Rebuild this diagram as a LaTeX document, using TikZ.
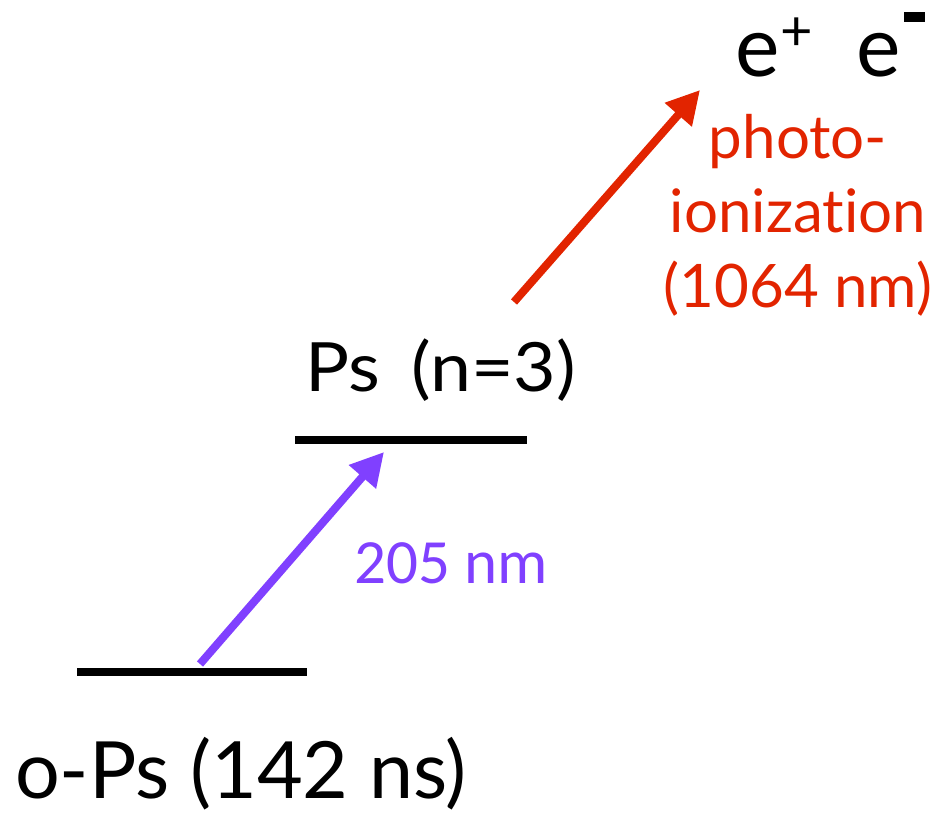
\documentclass[tikz,border=0pt]{standalone}
\usepackage{fontspec}
\setmainfont[Ligatures=NoCommon]{Lato}
\newfontfamily\calib{Carlito}
\usetikzlibrary{arrows.meta}
\definecolor{vio}{RGB}{128,64,255}
\definecolor{rd}{RGB}{226,36,0}
\tikzset{
  level/.style={line width=8pt},
  photon/.style={line width=8pt,-{Triangle[length=33pt,width=34pt]}},
  lbl/.style={inner sep=0pt,anchor=base west},
}
\begin{document}
\begin{tikzpicture}[x=1pt,y=-1pt]
\useasboundingbox (0,0) rectangle (935,816);
% levels
\coordinate (l1a) at (77,672);
\coordinate (l1b) at (307,672);
\coordinate (l2a) at (295,439.5);
\coordinate (l2b) at (527,439.5);
\draw[level] (l1a) -- (l1b);
\draw[level] (l2a) -- (l2b);
% labels
\node[lbl,font=\fontsize{79}{80}\selectfont] (ops) at (15,798) {o-Ps (142 ns)};
\node[lbl,font=\fontsize{68}{70}\selectfont,xscale=1.08] (ps3) at (305,391) {Ps\hspace{0.42em}(n=3)};
\node[lbl,font=\calib\fontsize{63}{66}\selectfont,text=vio] (nm) at (354,583) {205 nm};
\node[lbl,font=\fontsize{84}{86}\selectfont] (ep) at (735,77) {e\kern1pt\raisebox{26pt}{\fontsize{56}{56}\selectfont+}};
\node[lbl,font=\fontsize{84}{86}\selectfont] (em) at (856,77) {e\kern3pt\raisebox{55pt}{\rule{21pt}{10pt}}};
\node[inner sep=0pt,anchor=base,font=\fontsize{60}{62}\selectfont,text=rd] (ph1) at (798,158) {photo-};
\node[inner sep=0pt,anchor=base,font=\fontsize{60}{62}\selectfont,text=rd] (ph2) at (798,232) {ionization};
\node[inner sep=0pt,anchor=base,font=\fontsize{60}{62}\selectfont,text=rd] (ph3) at (798,307) {(1064 nm)};
% arrows
\coordinate (a1s) at (200,664);
\coordinate (a1e) at (384,452);
\coordinate (a2s) at (514,302);
\coordinate (a2e) at (700,90);
\draw[photon,vio] (a1s) -- (a1e);
\draw[photon,rd] (a2s) -- (a2e);
\end{tikzpicture}
\end{document}
